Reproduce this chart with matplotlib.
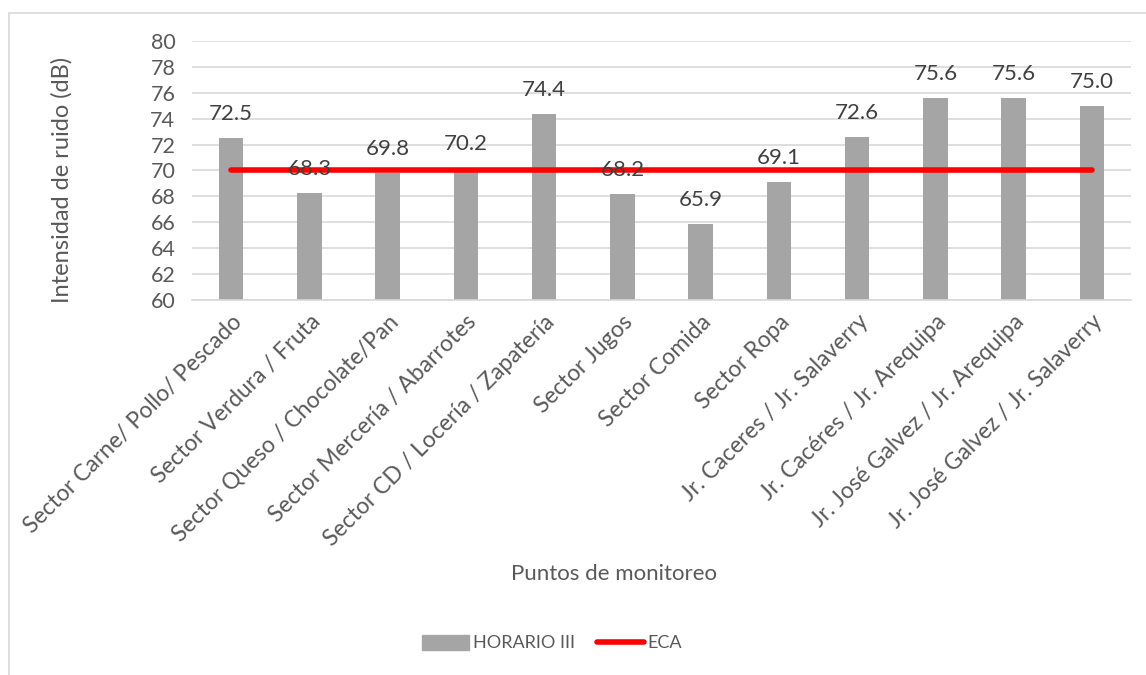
import matplotlib.pyplot as plt
from matplotlib.patches import Rectangle
from matplotlib.lines import Line2D
import numpy as np

plt.rcParams['font.family'] = ['Lato', 'DejaVu Sans']

# puntos de monitoreo y niveles medidos
puntos = ['Sector Carne/ Pollo/ Pescado', 'Sector Verdura / Fruta',
          'Sector Queso / Chocolate/Pan', 'Sector Mercería / Abarrotes',
          'Sector CD / Locería / Zapatería', 'Sector Jugos', 'Sector Comida',
          'Sector Ropa', 'Jr. Caceres / Jr. Salaverry', 'Jr. Cacéres / Jr. Arequipa',
          'Jr. José Galvez / Jr. Arequipa', 'Jr. José Galvez / Jr. Salaverry']
horario_iii = [72.5, 68.3, 69.8, 70.2, 74.4, 68.2, 65.9, 69.1, 72.6, 75.6, 75.6, 75.0]
eca = [70] * len(puntos)

W, H = 1146, 675
fig = plt.figure(figsize=(W / 100, H / 100), dpi=100)
ax = fig.add_axes([192 / W, 1 - 300 / H, (1131 - 192) / W, (300 - 41) / H])

# borde del área del gráfico
fig.patches.append(Rectangle((8.5 / W, -0.1), 1.2, 1 - 12.5 / H + 0.1,
                             transform=fig.transFigure, fill=False,
                             edgecolor='#d9d9d9', linewidth=1.2))

x = np.arange(len(puntos))
gris = '#a5a5a5'
txt = '#595959'
ax.bar(x, horario_iii, width=0.31, color=gris, zorder=2)
ax.plot(x, eca, color='#ff0000', linewidth=4, solid_capstyle='round', zorder=3)

for xi, v in zip(x, horario_iii):
    ax.annotate(f'{v:.1f}', (xi, v), xytext=(0, 10), textcoords='offset points',
                ha='center', va='bottom', fontsize=16, color='#404040', zorder=4)

ax.set_xlim(-0.5, len(puntos) - 0.5)
ax.set_ylim(60, 80)
ax.set_yticks(np.arange(60, 81, 2))
ax.yaxis.grid(True, color='#d9d9d9', linewidth=1.2, zorder=0)
ax.set_axisbelow(True)
for s in ['top', 'right', 'left']:
    ax.spines[s].set_visible(False)
ax.spines['bottom'].set_color('#d9d9d9')
ax.spines['bottom'].set_linewidth(1.2)
ax.tick_params(axis='both', length=0, labelsize=15.5, labelcolor=txt)
ax.tick_params(axis='y', pad=12)
ax.tick_params(axis='x', pad=8)
ax.set_xticks(x)
ax.set_xticklabels(puntos, rotation=45, ha='right', va='top',
                   rotation_mode='anchor', fontsize=16.5)

fig.text(62 / W, 1 - 180 / H, 'Intensidad de ruido (dB)', rotation=90,
         ha='center', va='center', fontsize=17, color=txt)
fig.text(614 / W, 1 - 574 / H, 'Puntos de monitoreo', ha='center',
         va='center', fontsize=16, color=txt)

handles = [Rectangle((0, 0), 1, 1, color=gris),
           Line2D([0], [0], color='#ff0000', linewidth=4, solid_capstyle='round')]
fig.legend(handles, ['HORARIO III', 'ECA'], loc='center', ncol=2,
           bbox_to_anchor=(552 / W, 1 - 643 / H), frameon=False, fontsize=13,
           labelcolor=txt, handlelength=2.6, handleheight=0.9,
           handletextpad=0.2, columnspacing=1.2)

fig.savefig('out.png', dpi=100)
